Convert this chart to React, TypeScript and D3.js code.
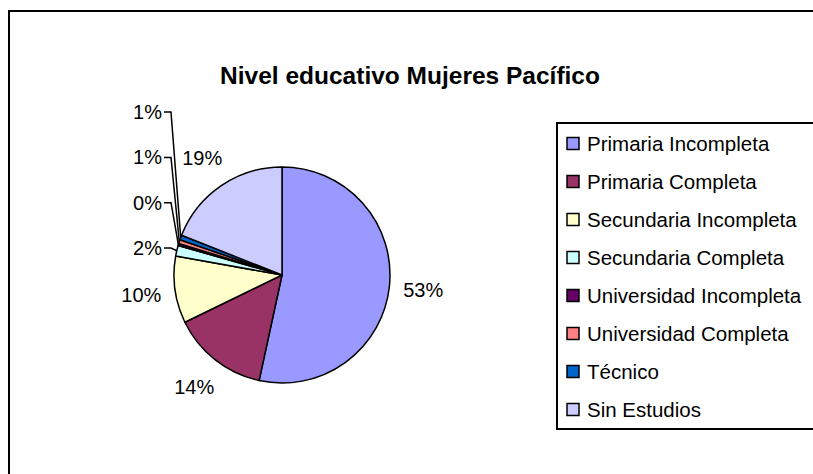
import React from "react";
import * as d3 from "d3";

const categories = [
  "Primaria Incompleta",
  "Primaria Completa",
  "Secundaria Incompleta",
  "Secundaria Completa",
  "Universidad Incompleta",
  "Universidad Completa",
  "Técnico",
  "Sin Estudios",
];
const values = [53.4, 14.4, 10.0, 1.6, 0.3, 0.6, 0.7, 19.0];
const colors = ["#9999FF", "#993366", "#FFFFCC", "#CCFFFF", "#660066", "#FF8080", "#0066CC", "#CCCCFF"];
const title = "Nivel educativo Mujeres Pacífico";
// indices of small slices whose labels are stacked with leader lines
const stackedLabels = [3, 4, 5, 6];

const W = 813;
const H = 474;
const FONT = "'Liberation Sans', Arial, sans-serif";

export default function App() {
  const cx = 282;
  const cy = 275;
  const r = 108;
  const total = d3.sum(values);
  const pie = d3.pie<number>().sort(null).value((d) => d).startAngle(0).endAngle(2 * Math.PI);
  const arcs = pie(values);
  const arcGen = d3.arc<d3.PieArcDatum<number>>().innerRadius(0).outerRadius(r);
  const pct = (v: number) => `${Math.round((v / total) * 100)}%`;

  const legendX = 557;
  const legendY = 123;
  const rowH = 38;

  return (
    <svg width={W} height={H} style={{ position: "absolute", left: 0, top: 0 }}>
      <rect x={0} y={0} width={W} height={H} fill="#fff" />
      <rect x={9} y={11} width={W + 20} height={H + 20} fill="none" stroke="#000" strokeWidth={2} />
      <text x={410} y={84} textAnchor="middle" fontFamily={FONT} fontWeight="bold" fontSize={24.5} fill="#000">
        {title}
      </text>
      <g transform={`translate(${cx},${cy})`}>
        {arcs.map((a, i) => (
          <path key={i} d={arcGen(a) || ""} fill={colors[i]} stroke="#000" strokeWidth={1.5} strokeLinejoin="round" />
        ))}
      </g>
      {arcs.map((a, i) => {
        const mid = (a.startAngle + a.endAngle) / 2;
        const dx = Math.sin(mid);
        const dy = -Math.cos(mid);
        const si = stackedLabels.indexOf(i);
        if (si >= 0) {
          const ly = 255 - si * 45.3;
          const lx = 162;
          const px = cx + dx * r;
          const py = cy + dy * r;
          const path = d3.path();
          path.moveTo(lx + 2, ly - 7);
          path.lineTo(lx + 9, ly - 7);
          path.lineTo(px, py);
          return (
            <g key={i}>
              <path d={path.toString()} fill="none" stroke="#000" strokeWidth={1.5} />
              <text x={lx} y={ly} textAnchor="end" fontFamily={FONT} fontSize={20} fill="#000">
                {pct(values[i])}
              </text>
            </g>
          );
        }
        const lr = r + 34;
        return (
          <text key={i} x={cx + dx * lr} y={cy + dy * lr + 7} textAnchor="middle" fontFamily={FONT} fontSize={20} fill="#000">
            {pct(values[i])}
          </text>
        );
      })}
      <rect x={legendX} y={legendY} width={W} height={306} fill="#fff" stroke="#000" strokeWidth={2} />
      {categories.map((c, i) => {
        const y = 144 + i * rowH;
        return (
          <g key={c}>
            <rect x={567} y={y - 6.5} width={12} height={12} fill={colors[i]} stroke="#000" strokeWidth={1.5} />
            <text x={587} y={y + 7} fontFamily={FONT} fontSize={20.5} fill="#000">
              {c}
            </text>
          </g>
        );
      })}
    </svg>
  );
}
